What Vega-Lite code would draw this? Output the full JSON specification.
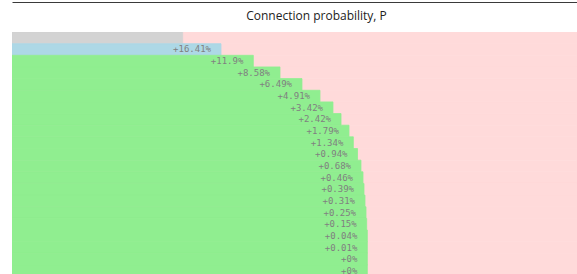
{
  "$schema": "https://vega.github.io/schema/vega-lite/v6.json",
  "autosize": "none",
  "width": 565,
  "height": 242,
  "padding": {"left": 12, "top": 32, "right": 0, "bottom": 0},
  "background": "white",
  "config": {"view": {"stroke": null}},
  "data": {"values": [
    {"i": 0, "p": 0.3719, "label": "", "kind": "base"},
    {"i": 1, "p": 0.4329, "label": "+16.41%", "kind": "first"},
    {"i": 2, "p": 0.4844, "label": "+11.9%", "kind": "step"},
    {"i": 3, "p": 0.5269, "label": "+8.58%", "kind": "step"},
    {"i": 4, "p": 0.5619, "label": "+6.49%", "kind": "step"},
    {"i": 5, "p": 0.5906, "label": "+4.91%", "kind": "step"},
    {"i": 6, "p": 0.6113, "label": "+3.42%", "kind": "step"},
    {"i": 7, "p": 0.6241, "label": "+2.42%", "kind": "step"},
    {"i": 8, "p": 0.6368, "label": "+1.79%", "kind": "step"},
    {"i": 9, "p": 0.6437, "label": "+1.34%", "kind": "step"},
    {"i": 10, "p": 0.6504, "label": "+0.94%", "kind": "step"},
    {"i": 11, "p": 0.6559, "label": "+0.68%", "kind": "step"},
    {"i": 12, "p": 0.6591, "label": "+0.46%", "kind": "step"},
    {"i": 13, "p": 0.6607, "label": "+0.39%", "kind": "step"},
    {"i": 14, "p": 0.6623, "label": "+0.31%", "kind": "step"},
    {"i": 15, "p": 0.6639, "label": "+0.25%", "kind": "step"},
    {"i": 16, "p": 0.6650, "label": "+0.15%", "kind": "step"},
    {"i": 17, "p": 0.6660, "label": "+0.04%", "kind": "step"},
    {"i": 18, "p": 0.6660, "label": "+0.01%", "kind": "step"},
    {"i": 19, "p": 0.6660, "label": "+0%", "kind": "step"},
    {"i": 20, "p": 0.6660, "label": "+0%", "kind": "step"}
  ]},
  "encoding": {
    "y": {"field": "i", "type": "ordinal", "axis": null,
          "scale": {"range": [0, 244.65], "paddingInner": 0, "paddingOuter": 0}}
  },
  "layer": [
    {
      "mark": {"type": "bar", "color": "#ffdada", "stroke": "#ffdada", "strokeWidth": 0.8, "clip": true},
      "encoding": {
        "x": {"datum": 1, "type": "quantitative",
              "scale": {"domain": [0.1, 1], "zero": false, "nice": false},
              "axis": {"orient": "top", "offset": 30, "domain": true, "domainColor": "#3a3a3a", "domainWidth": 1.2,
                       "ticks": false, "labels": false, "grid": false,
                       "title": "Connection probability, P", "titleFont": "Open Sans", "titleFontSize": 12,
                       "titleFontWeight": "normal", "titleColor": "#222",
                       "titleX": 304, "titleY": 13, "titleAlign": "center", "titleBaseline": "middle"}},
        "x2": {"datum": 0.1}
      }
    },
    {
      "mark": {"type": "bar", "strokeWidth": 0.8, "clip": true},
      "encoding": {
        "x": {"field": "p", "type": "quantitative"},
        "x2": {"datum": 0.1},
        "color": {"field": "kind", "type": "nominal", "legend": null,
                  "scale": {"domain": ["base", "first", "step"], "range": ["#d3d3d3", "#add8e6", "#90ee90"]}},
        "stroke": {"field": "kind", "type": "nominal", "legend": null,
                  "scale": {"domain": ["base", "first", "step"], "range": ["#d3d3d3", "#add8e6", "#90ee90"]}}
      }
    },
    {
      "mark": {"type": "text", "align": "right", "baseline": "middle", "dx": -10, "font": "DejaVu Sans Mono", "fontSize": 9, "color": "#808080", "clip": true},
      "encoding": {
        "x": {"field": "p", "type": "quantitative"},
        "text": {"field": "label"}
      }
    }
  ]
}
